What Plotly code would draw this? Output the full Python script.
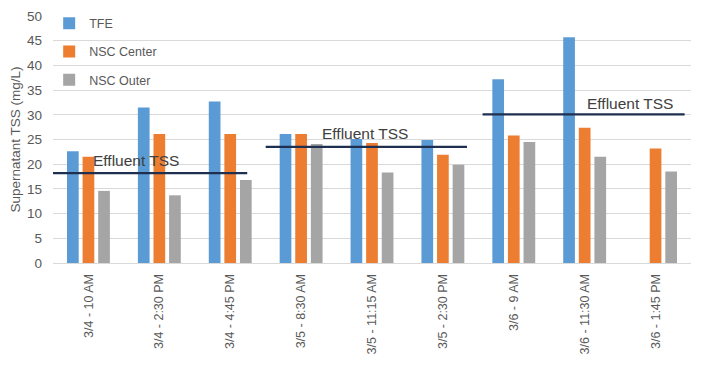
import plotly.graph_objects as go

categories = ["3/4 - 10 AM", "3/4 - 2:30 PM", "3/4 - 4:45 PM", "3/5 - 8:30 AM",
              "3/5 - 11:15 AM", "3/5 - 2:30 PM", "3/6 - 9 AM", "3/6 - 11:30 AM",
              "3/6 - 1:45 PM"]
tfe = [22.6, 31.5, 32.7, 26.1, 25.1, 24.9, 37.2, 45.7, None]
nsc_center = [21.5, 26.1, 26.1, 26.1, 24.3, 21.9, 25.8, 27.4, 23.2]
nsc_outer = [14.6, 13.7, 16.8, 24.1, 18.3, 19.9, 24.5, 21.5, 18.5]

effluent_tss = [18.2, 23.5, 30.1]
effluent_span_start = [-0.5, 2.5, 5.56]
effluent_span_end = [2.24, 5.34, 8.41]
effluent_label_x = [0.67, 3.9, 7.64]
effluent_label_y = [20.7, 26.2, 32.2]

fig = go.Figure()
series = [("TFE", tfe, "#5B9BD5"), ("NSC Center", nsc_center, "#ED7D31"),
          ("NSC Outer", nsc_outer, "#A5A5A5")]
for name, vals, col in series:
    fig.add_trace(go.Bar(x=categories, y=vals, name=name, marker_color=col,
                         marker_line_width=0, legendgroup=name))

for lvl, xs, xe in zip(effluent_tss, effluent_span_start, effluent_span_end):
    fig.add_trace(go.Scatter(x=[xs, xe], y=[lvl, lvl], mode="lines",
                             line=dict(color="#1F2F4F", width=2.2),
                             xaxis="x2", showlegend=False, hoverinfo="skip"))

for lx, ly in zip(effluent_label_x, effluent_label_y):
    fig.add_annotation(x=lx, y=ly, xref="x2", yref="y", text="Effluent TSS",
                       showarrow=False,
                       font=dict(family="Liberation Sans, Arial", size=15.5, color="#404040"))

fig.update_layout(
    width=697, height=357,
    margin=dict(l=45, r=14, t=8, b=102, autoexpand=False),
    paper_bgcolor="white", plot_bgcolor="white",
    barmode="group", bargap=0.34, bargroupgap=0.25,
    font=dict(family="Liberation Sans, Arial", color="#595959"),
    legend=dict(x=-0.006, y=1.03, xanchor="left", yanchor="top",
                font=dict(size=12.5, color="#595959"), tracegroupgap=9,
                bgcolor="rgba(0,0,0,0)", itemwidth=30),
    xaxis=dict(type="category", tickangle=-90, tickfont=dict(size=12.5, color="#595959"),
               showgrid=False, showline=True, linecolor="#D9D9D9", ticks="",
               ticklabelstandoff=5, automargin=False),
    xaxis2=dict(overlaying="x", range=[-0.5, 8.5], visible=False),
    yaxis=dict(range=[0, 50], dtick=5, showgrid=True, gridcolor="#D9D9D9",
               zeroline=False, tickfont=dict(size=13.5, color="#595959"),
               ticklabelstandoff=10, automargin=False,
               title=dict(text="Supernatant TSS (mg/L)", font=dict(size=13.5, color="#595959"),
                          standoff=6)),
    showlegend=True,
)

fig.write_html("out.html")
